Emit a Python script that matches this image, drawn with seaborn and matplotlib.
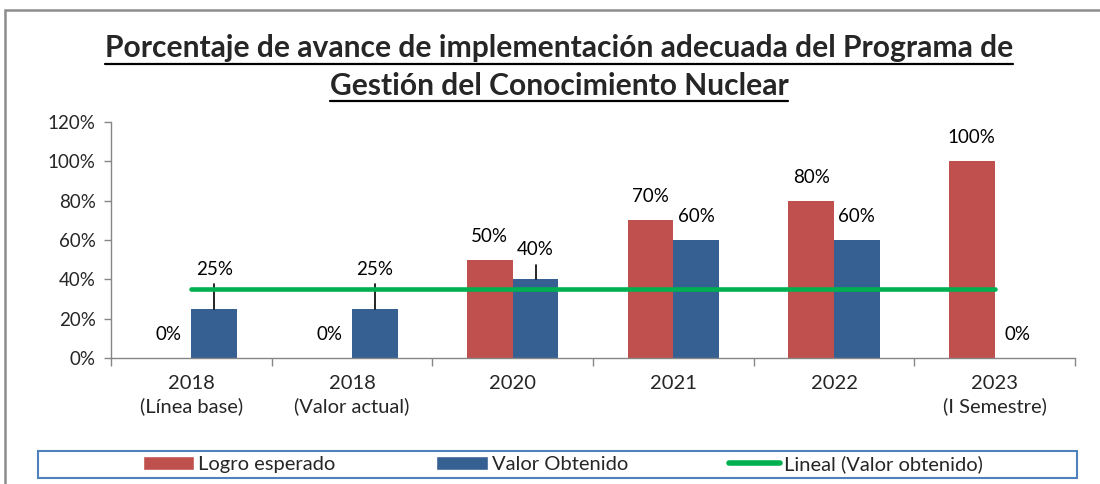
import numpy as np
import pandas as pd
import matplotlib
matplotlib.use("Agg")
import matplotlib.pyplot as plt
from matplotlib.lines import Line2D
from matplotlib.patches import Patch, Rectangle
import seaborn as sns

# --- data -----------------------------------------------------------------
categories = ["2018\n(Línea base)", "2018\n(Valor actual)", "2020",
              "2021", "2022", "2023\n(I Semestre)"]
logro_esperado = [0, 0, 50, 70, 80, 100]
valor_obtenido = [25, 25, 40, 60, 60, 0]
series_names = ["Logro esperado", "Valor Obtenido"]
trend_name = "Lineal (Valor obtenido)"
y_ticks = [0, 20, 40, 60, 80, 100, 120]

TITLE_1 = "Porcentaje de avance de implementación adecuada del Programa de"
TITLE_2 = "Gestión del Conocimiento Nuclear"

# --- style ----------------------------------------------------------------
RED = "#C0504D"
BLUE = "#376092"
GREEN = "#00B050"
AXIS_GREY = "#868686"
W, H = 1100, 484
NUM_FS = 13.5   # numbers (ticks, data labels)
TXT_FS = 14.5   # words (categories, legend)

sns.set_theme(style="white")
plt.rcParams["font.family"] = ["Lato", "DejaVu Sans"]

df = pd.DataFrame({
    "cat": categories * 2,
    "serie": [series_names[0]] * len(categories) + [series_names[1]] * len(categories),
    "value": logro_esperado + valor_obtenido,
})

fig = plt.figure(figsize=(W / 100, H / 100), dpi=100)
ax = fig.add_axes([111 / W, 1 - 358 / H, 964 / W, 236 / H])

sns.barplot(data=df, x="cat", y="value", hue="serie", order=categories,
            hue_order=series_names, palette=[RED, BLUE], width=0.57, gap=0,
            saturation=1, errorbar=None, legend=False, linewidth=0, ax=ax,
            zorder=2)

# linear trend of "Valor obtenido"
xs = np.arange(len(categories))
slope, intercept = np.polyfit(xs, valor_obtenido, 1)
ax.plot(xs, slope * xs + intercept, color=GREEN, lw=3.3,
        solid_capstyle="round", zorder=4)

# data labels (some were dragged up by hand, with a leader line)
LABEL_LIFT = {(1, 0): 20, (1, 1): 20, (1, 2): 15}
for s, (cont, vals) in enumerate(zip(ax.containers, [logro_esperado, valor_obtenido])):
    for i, (bar, v) in enumerate(zip(cont, vals)):
        xc = bar.get_x() + bar.get_width() / 2
        lift = LABEL_LIFT.get((s, i), 12)
        ax.text(xc, v + lift, f"{v}%", ha="center", va="center",
                fontsize=NUM_FS, color="black", zorder=5)
        if (s, i) in LABEL_LIFT:
            ax.plot([xc, xc], [v, v + lift - 7.5], color="black", lw=1.2, zorder=3)

ax.set_xlim(-0.5, len(categories) - 0.5)
ax.set_ylim(0, 120)
ax.set_yticks(y_ticks)
ax.set_yticklabels([f"{t}%" for t in y_ticks])
ax.set_xlabel("")
ax.set_ylabel("")
ax.set_xticks(xs)
ax.set_xticklabels(categories, linespacing=1.35)
ax.set_xticks(np.arange(len(categories) + 1) - 0.5, minor=True)
ax.tick_params(axis="x", which="major", length=0, pad=12, labelsize=TXT_FS)
ax.tick_params(axis="x", which="minor", length=6, color=AXIS_GREY, width=1,
               direction="out", bottom=True)
ax.tick_params(axis="y", length=5, color=AXIS_GREY, width=1, direction="out",
               left=True, pad=6, labelsize=NUM_FS)
sns.despine(ax=ax)
for side in ("left", "bottom"):
    ax.spines[side].set_color(AXIS_GREY)
    ax.spines[side].set_linewidth(1)

# title with underline
t1 = fig.text(559 / W, 1 - 57 / H, TITLE_1, ha="center", va="baseline",
              fontsize=21.6, fontweight="bold")
t2 = fig.text(559 / W, 1 - 95 / H, TITLE_2, ha="center", va="baseline",
              fontsize=21.6, fontweight="bold")
fig.canvas.draw()
renderer = fig.canvas.get_renderer()
for t, y_px in ((t1, 64), (t2, 101)):
    bb = t.get_window_extent(renderer)
    fig.add_artist(Line2D([bb.x0 / W, bb.x1 / W], [1 - y_px / H] * 2,
                          transform=fig.transFigure, color="black", lw=1.6))

# legend
handles = [Patch(facecolor=RED), Patch(facecolor=BLUE),
           Line2D([], [], color=GREEN, lw=4, solid_capstyle="round")]
fig.legend(handles, series_names + [trend_name], loc="center",
           bbox_to_anchor=(563 / W, 1 - 464 / H), ncol=3, frameon=False,
           fontsize=TXT_FS, handlelength=2.55, handletextpad=0.2,
           columnspacing=5.0)
fig.add_artist(Rectangle((38 / W, 1 - 478 / H), 1039 / W, 27 / H,
                         transform=fig.transFigure, fill=False,
                         edgecolor="#4F81BD", lw=1.5))

# outer chart frame
fig.add_artist(Rectangle((5 / W, -0.1), 1.2, 1.1 - 10 / H,
                         transform=fig.transFigure, fill=False,
                         edgecolor="#8C8C8C", lw=1.8))

fig.savefig("out.png", dpi=100)
